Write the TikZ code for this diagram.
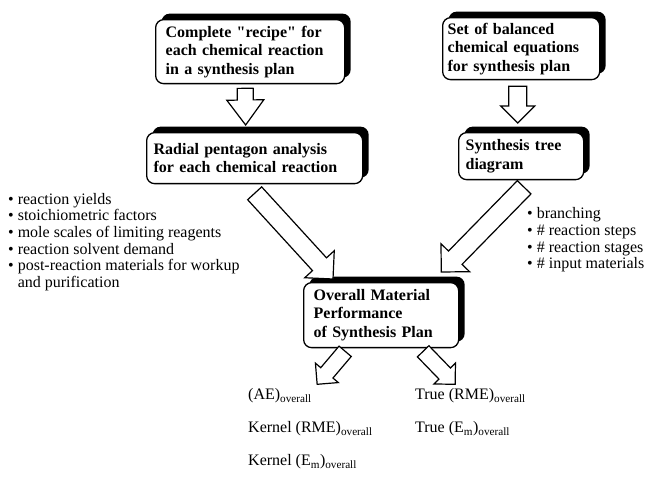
\documentclass[tikz,border=0pt]{standalone}
\usepackage{fontspec}
\setmainfont{Liberation Serif}[Ligatures=TeXOff]
\usetikzlibrary{calc,shadows}

% hollow block arrow from #1 to #2: shaft half width, head half width, head length
\newcommand{\blockarrow}[5]{%
  \coordinate (ba) at ($(#2)!#5!(#1)$);
  \draw[blk] ($(#1)!#3!90:(#2)$) -- ($(ba)!#3!90:(#2)$) -- ($(ba)!#4!90:(#2)$) -- (#2)
    -- ($(ba)!#4!-90:(#2)$) -- ($(ba)!#3!-90:(#2)$) -- ($(#1)!#3!-90:(#2)$) -- cycle;
}

\begin{document}
\begin{tikzpicture}[x=1pt, y=-1pt,
  box/.style={draw, line width=1.3pt, rounded corners=8pt, fill=white, anchor=north west,
    align=left, inner xsep=7pt, inner ysep=0pt, font=\bfseries\fontsize{16}{18.5}\selectfont,
    general shadow={fill=black, shadow xshift=6pt, shadow yshift=6pt}},
  blk/.style={draw, fill=white, line width=1.2pt, line join=miter},
  lst/.style={anchor=west, align=left, inner sep=0pt, font=\fontsize{16}{16.7}\selectfont},
  res/.style={anchor=west, inner sep=0pt, font=\fontsize{16}{20}\selectfont},
]
\useasboundingbox (0,0) rectangle (654,481);

% inputs
\node[box, inner xsep=10pt, text width=169pt, minimum height=64pt] (rec) at (155,19)
  {Complete "recipe" for\\each chemical reaction\\in a synthesis plan};
\node[box, inner xsep=5pt, text width=147pt, minimum height=62pt] (eqs) at (442,17)
  {Set of balanced\\chemical equations\\for synthesis plan};

% analyses
\node[box, text width=202pt, minimum height=51pt] (rad) at (146,132)
  {Radial pentagon analysis\\for each chemical reaction};
\node[box, text width=111pt, minimum height=47pt] (tree) at (458,132)
  {Synthesis tree\\diagram};

% result
\node[box, inner xsep=10pt, text width=135pt, minimum height=65pt] (perf) at (303,282)
  {Overall Material\\Performance\\of Synthesis Plan};

% parameter lists
\node[lst] (rxn) at (8,242) {\textbullet\ reaction yields\\\textbullet\ stoichiometric factors\\
  \textbullet\ mole scales of limiting reagents\\\textbullet\ reaction solvent demand\\
  \textbullet\ post-reaction materials for workup\\\hphantom{\textbullet\ }and purification};
\node[lst] (trp) at (527,240) {\textbullet\ branching\\\textbullet\ \# reaction steps\\
  \textbullet\ \# reaction stages\\\textbullet\ \# input materials};

% metrics
\node[res] (ae) at (248,396) {(AE)\textsubscript{overall}};
\node[res] (krme) at (248,429) {Kernel (RME)\textsubscript{overall}};
\node[res] (kem) at (248,462) {Kernel (E\textsubscript{m})\textsubscript{overall}};
\node[res] (trme) at (415,396) {True (RME)\textsubscript{overall}};
\node[res] (tem) at (415,429) {True (E\textsubscript{m})\textsubscript{overall}};

% arrow ends
\coordinate (a1s) at ($(rec.south)+(-5,4)$);
\coordinate (a1e) at ($(rad.north)+(-9,-7)$);
\coordinate (a2s) at ($(eqs.south)+(-3.5,6)$);
\coordinate (a2e) at ($(tree.north)+(-3.5,-9)$);
\coordinate (a3s) at ($(rad.south)+(0,9)$);
\coordinate (a3e) at ($(perf.north west)+(30,-3)$);
\coordinate (a4s) at ($(tree.south)+(3,7)$);
\coordinate (a4e) at ($(perf.north east)+(-18,-10)$);
\coordinate (a5s) at ($(perf.south)+(-36,3)$);
\coordinate (a5e) at ($(perf.south)+(-64,36)$);
\coordinate (a6s) at ($(perf.south)+(42,3)$);
\coordinate (a6e) at ($(perf.south)+(74,36)$);

\blockarrow{a1s}{a1e}{8pt}{18.5pt}{25pt}
\blockarrow{a2s}{a2e}{9pt}{17pt}{17pt}
\blockarrow{a3s}{a3e}{9.5pt}{20pt}{20pt}
\blockarrow{a4s}{a4e}{9.5pt}{20pt}{20pt}
\blockarrow{a5s}{a5e}{8pt}{15pt}{15pt}
\blockarrow{a6s}{a6e}{8pt}{15pt}{15pt}
\end{tikzpicture}
\end{document}
